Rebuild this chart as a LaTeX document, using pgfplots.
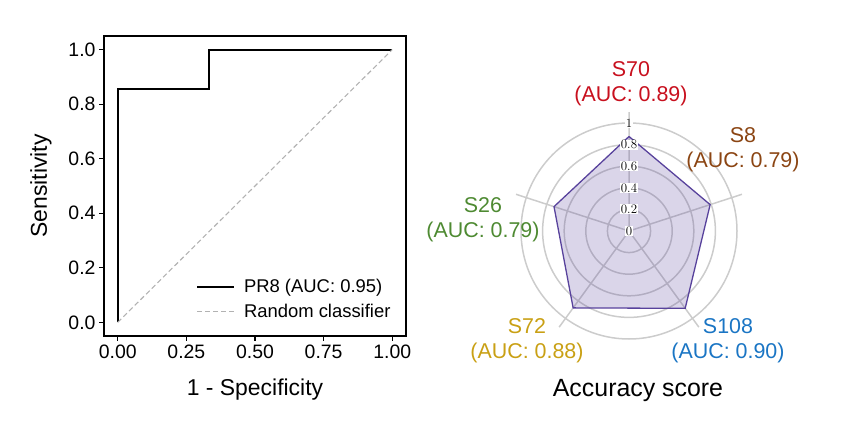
\documentclass[border=0pt]{standalone}
\usepackage{fontspec}
\setmainfont{Liberation Sans}
\usepackage{pgfplots}
\pgfplotsset{compat=1.18}
\usepgfplotslibrary{polar}

\definecolor{cS70}{RGB}{200,16,30}
\definecolor{cS8}{RGB}{139,69,19}
\definecolor{cS108}{RGB}{26,117,196}
\definecolor{cS72}{RGB}{201,160,20}
\definecolor{cS26}{RGB}{78,138,50}
\definecolor{radar}{RGB}{88,66,156}
\definecolor{ringgray}{RGB}{204,204,204}

\begin{document}
\begin{tikzpicture}
\useasboundingbox (0,0) rectangle (847bp,421bp);

% ROC curve
\begin{axis}[
    at={(104bp,85bp)}, anchor=south west,
    scale only axis, width=302bp, height=300bp,
    xmin=-0.05, xmax=1.05, ymin=-0.05, ymax=1.05,
    xtick={0,0.25,0.5,0.75,1},
    ytick={0,0.2,0.4,0.6,0.8,1},
    /pgf/number format/assume math mode=true,
    xticklabel={\pgfmathprintnumber[fixed,fixed zerofill,precision=2]{\tick}},
    yticklabel={\pgfmathprintnumber[fixed,fixed zerofill,precision=1]{\tick}},
    tick label style={font=\fontsize{19.5}{22}\selectfont},
    xtick pos=left, ytick pos=left,
    tick align=outside, major tick length=5bp,
    axis line style={line width=1.1bp},
    tick style={line width=1.1bp, black},
    xlabel={1 - Specificity}, ylabel={Sensitivity},
    label style={font=\fontsize{23}{27}\selectfont},
    xlabel style={at={(axis description cs:0.5,-0.177)}, anchor=center},
    ylabel style={at={(axis description cs:-0.209,0.5)}, anchor=center, rotate=0},
    legend style={draw=none, fill=none, at={(axis description cs:0.305,0.123)},
        anchor=west, inner sep=0pt, font=\fontsize{18.5}{21}\selectfont,
        row sep=6bp, nodes={inner xsep=8.5bp}},
    legend cell align=left,
    legend image code/.code={\draw[#1] (0bp,0bp) -- (37bp,0bp);},
]
\addplot[black, line width=2.2bp, sharp plot] coordinates {
    (0,0) (0,0.857) (0.333,0.857) (0.333,1) (1,1)
};
\addlegendentry{PR8 (AUC: 0.95)}
\addplot[black!30, line width=1.1bp, dash pattern=on 5bp off 3bp] coordinates {(0,0) (1,1)};
\addlegendentry{Random classifier}
\end{axis}

% Radar chart
\begin{polaraxis}[
    at={(629bp,190bp)}, anchor=origin,
    scale only axis, width=237.6bp, height=237.6bp,
    xmin=0, xmax=360, ymin=0, ymax=1.1,
    xtick={18,90,162,234,306}, ytick={0.2,0.4,0.6,0.8,1},
    xticklabels={}, yticklabels={},
    major tick length=0pt,
    xmajorgrids, ymajorgrids,
    grid style={ringgray, line width=1.5bp},
    axis line style={draw=none},
    clip=false,
]
\addplot[draw=radar, line width=1.3bp, fill=radar, fill opacity=0.22] coordinates {
    (90,0.875) (18,0.79) (306,0.885) (234,0.88) (162,0.73) (90,0.875)
};
\foreach \r/\t in {0/0,0.2/0.2,0.4/0.4,0.6/0.6,0.8/0.8,1/1} {
    \edef\temp{\noexpand\node[fill=white, inner sep=0.6bp, font=\noexpand\fontfamily{lmr}\noexpand\fontsize{13}{14}\noexpand\selectfont] at (axis cs:90,\r) {\t};}
    \temp
}
\end{polaraxis}

\begin{scope}[every node/.style={align=center, font=\fontsize{21.5}{25}\selectfont}]
\node[text=cS70] at (631bp,337bp) {S70\\(AUC: 0.89)};
\node[text=cS8] at (743bp,271bp) {S8\\(AUC: 0.79)};
\node[text=cS26] at (483bp,201bp) {S26\\(AUC: 0.79)};
\node[text=cS72] at (527bp,80bp) {S72\\(AUC: 0.88)};
\node[text=cS108] at (728bp,80bp) {S108\\(AUC: 0.90)};
\node[font=\fontsize{25}{29}\selectfont] at (638bp,30bp) {Accuracy score};
\end{scope}
\end{tikzpicture}
\end{document}
